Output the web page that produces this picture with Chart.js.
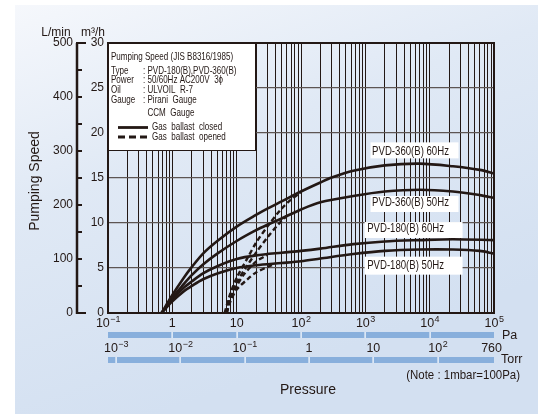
<!DOCTYPE html>
<html>
<head>
<meta charset="utf-8">
<script src="https://cdn.jsdelivr.net/npm/chart.js@4.4.1/dist/chart.umd.min.js"></script>
<style>
  html, body { margin: 0; padding: 0; background: #fff; }
  canvas { display: block; }
</style>
</head>
<body>
<canvas id="speedChart" width="538" height="414"></canvas>
<script>
// Pressure in Pa, pumping speed in m3/h
const p360_60 = [0.68, 1, 1.5, 2, 3, 5, 10, 20, 30, 50, 100, 200, 300, 650, 2000, 7000, 23000, 60000, 100000];
const s360_60 = [0, 2.0, 3.9, 5.1, 6.6, 8.0, 9.6, 10.9, 11.6, 12.4, 13.5, 14.5, 15.05, 15.8, 16.4, 16.6, 16.3, 15.9, 15.5];

const p360_50 = [0.68, 1, 1.5, 2, 3, 5, 10, 20, 30, 50, 100, 200, 650, 2000, 7000, 23000, 60000, 100000];
const s360_50 = [0, 1.7, 3.2, 4.2, 5.4, 6.6, 8.0, 9.2, 9.8, 10.5, 11.5, 12.3, 13.0, 13.5, 13.7, 13.5, 13.1, 12.8];

const p180_60 = [0.68, 1, 1.5, 2, 3, 5, 10, 20, 50, 100, 200, 650, 2000, 7000, 23000, 100000];
const s180_60 = [0, 1.5, 2.8, 3.5, 4.4, 5.2, 6.0, 6.4, 6.7, 6.9, 7.15, 7.65, 7.95, 8.1, 8.2, 8.1];

const p180_50 = [0.68, 1, 1.5, 2, 3, 5, 10, 20, 50, 100, 200, 650, 2000, 7000, 23000, 60000, 100000];
const s180_50 = [0, 1.3, 2.4, 3.0, 3.75, 4.4, 5.0, 5.3, 5.55, 5.75, 6.05, 6.55, 6.9, 7.05, 7.05, 6.9, 6.6];

// gas ballast opened
const p360_60o = [6.5, 8, 10, 15, 20, 30, 50, 70, 100];
const s360_60o = [0, 2.2, 3.9, 6.2, 7.8, 9.6, 11.6, 12.6, 13.4];
const p360_50o = [6.8, 8, 10, 15, 20, 30, 45, 60];
const s360_50o = [0, 1.9, 3.4, 5.4, 6.7, 8.4, 9.9, 10.8];
const p180_60o = [7, 8, 10, 13, 20, 30];
const s180_60o = [0, 1.6, 3.0, 4.3, 5.7, 6.45];
const p180_50o = [7, 8, 10, 15, 20, 30, 40];
const s180_50o = [0, 1.3, 2.6, 3.8, 4.5, 5.1, 5.45];

const curveNames = ["PVD-360(B) 60Hz", "PVD-360(B) 50Hz", "PVD-180(B) 60Hz", "PVD-180(B) 50Hz"];

// axis ticks
const paTicks = [0.1, 1, 10, 100, 1000, 10000, 100000];
const paLabels = ["10^−1", "1", "10", "10^2", "10^3", "10^4", "10^5"];
const torrTicks = [0.001, 0.01, 0.1, 1, 10, 100, 760];
const torrLabels = ["10^−3", "10^−2", "10^−1", "1", "10", "10^2", "760"];
const lminTicks = [0, 100, 200, 300, 400, 500];
const m3hTicks = [0, 5, 10, 15, 20, 25, 30];

const legendTitle = "Pumping Speed (JIS B8316/1985)";
const legendLines = [
  ["Type", ": PVD-180(B),PVD-360(B)"],
  ["Power", ": 50/60Hz AC200V  3\u03d5"],
  ["Oil", ": ULVOIL  R-7"],
  ["Gauge", ": Pirani  Gauge"],
  ["", "  CCM  Gauge"]
];
const legendKeys = ["Gas  ballast  closed", "Gas  ballast  opened"];

const TORR_PA = 133.322;
const LMIN_M3H = 0.06;

const INK = '#231815';
const BAR = '#88afdc';
const REG = "'Liberation Sans', Arial, sans-serif";

// label anchors (Pa, m3/h) and white box margins in px [left, right, up, down]
const labelAnchors = [
  { x: 5040, y: 17.96, box: [40, 48, 9, 7] },
  { x: 5040, y: 12.22, box: [40, 48, 7, 9] },
  { x: 4220, y: 9.33, box: [41, 57, 7, 9] },
  { x: 4220, y: 5.26, box: [41, 57, 9, 9] }
];

function pts(px, py) {
  return px.map((p, i) => ({ x: p, y: py[i] }));
}

function curve(px, py, dashed) {
  return {
    data: pts(px, py),
    borderColor: INK,
    borderWidth: dashed ? 2.4 : 2.6,
    borderDash: dashed ? [5, 3] : [],
    pointRadius: 0,
    fill: false,
    tension: 0.3
  };
}

// condensed text (Helvetica Condensed look)
function narrow(ctx, text, x, y, size, align, sx) {
  ctx.save();
  ctx.font = size + 'px ' + REG;
  ctx.textAlign = align || 'left';
  ctx.textBaseline = 'middle';
  ctx.translate(x, y);
  ctx.scale(sx || 0.82, 1);
  ctx.fillText(text, 0, 0);
  ctx.restore();
}

// draws "10^2" style text centred on cx
function powText(ctx, label, cx, cy, size, align) {
  const parts = label.split('^');
  ctx.font = size + 'px ' + REG;
  const wb = ctx.measureText(parts[0]).width;
  let we = 0;
  if (parts[1]) {
    ctx.font = (size * 0.72) + 'px ' + REG;
    we = ctx.measureText(parts[1]).width;
  }
  let x0 = cx - (wb + we) / 2;
  if (align === 'right') x0 = cx - wb - we;
  ctx.textAlign = 'left';
  ctx.textBaseline = 'middle';
  ctx.font = size + 'px ' + REG;
  ctx.fillText(parts[0], x0, cy);
  if (parts[1]) {
    ctx.font = (size * 0.72) + 'px ' + REG;
    ctx.fillText(parts[1], x0 + wb + 0.5, cy - size * 0.33);
  }
}

const gridPa = [];
for (let e = -1; e < 5; e++) {
  for (let m = 1; m < 10; m++) gridPa.push(m * Math.pow(10, e));
}
gridPa.push(1e5);

const decor = {
  id: 'decor',
  beforeDraw(chart) {
    const ctx = chart.ctx;
    ctx.save();
    ctx.fillStyle = '#fff';
    ctx.fillRect(0, 0, chart.width, chart.height);
    const g = ctx.createLinearGradient(15, 0, 160, 414);
    g.addColorStop(0, '#f6f8fc');
    g.addColorStop(0.45, '#e0e9f5');
    g.addColorStop(1, '#d3e0f1');
    ctx.fillStyle = g;
    ctx.fillRect(15, 5, chart.width - 15, chart.height - 5);
    ctx.restore();
  },
  beforeDatasetsDraw(chart) {
    const ctx = chart.ctx;
    const a = chart.chartArea;
    const xs = chart.scales.x, ys = chart.scales.y;
    ctx.save();
    // white label boxes
    ctx.fillStyle = '#fff';
    labelAnchors.forEach(l => {
      const cx = xs.getPixelForValue(l.x), cy = ys.getPixelForValue(l.y);
      ctx.fillRect(cx - l.box[0], cy - l.box[2], l.box[0] + l.box[1], l.box[2] + l.box[3]);
    });
    ctx.fillStyle = INK;
    labelAnchors.forEach((l, i) => {
      narrow(ctx, curveNames[i], xs.getPixelForValue(l.x), ys.getPixelForValue(l.y), 12, 'center', 0.8);
    });

    // legend box
    const bx = a.left, by = a.top, bw = 147, bh = 107;
    ctx.fillStyle = '#fff';
    ctx.fillRect(bx, by, bw, bh);
    ctx.strokeStyle = INK;
    ctx.lineWidth = 1;
    ctx.strokeRect(bx + 0.5, by + 0.5, bw, bh);
    ctx.fillStyle = INK;
    narrow(ctx, legendTitle, bx + 3, by + 14, 10.2, 'left', 0.79);
    const rows = [28, 37.5, 47, 57.5, 70];
    legendLines.forEach((r, i) => {
      narrow(ctx, r[0], bx + 3, by + rows[i], 10.2, 'left', 0.79);
      narrow(ctx, r[1], bx + 35, by + rows[i], 10.2, 'left', 0.79);
    });
    ctx.lineWidth = 2.8;
    ctx.beginPath();
    ctx.moveTo(bx + 10, by + 84.5);
    ctx.lineTo(bx + 40, by + 84.5);
    ctx.stroke();
    ctx.setLineDash([7, 4]);
    ctx.beginPath();
    ctx.moveTo(bx + 10, by + 94);
    ctx.lineTo(bx + 41, by + 94);
    ctx.stroke();
    ctx.setLineDash([]);
    narrow(ctx, legendKeys[0], bx + 44, by + 84.5, 10.2, 'left', 0.79);
    narrow(ctx, legendKeys[1], bx + 44, by + 94, 10.2, 'left', 0.79);

    // plot frame
    ctx.lineWidth = 2;
    ctx.strokeRect(a.left, a.top, a.right - a.left, a.bottom - a.top);
    ctx.restore();
  },
  afterDraw(chart) {
    const ctx = chart.ctx;
    const a = chart.chartArea;
    const xs = chart.scales.x, ys = chart.scales.y;
    ctx.save();
    ctx.fillStyle = INK;
    ctx.strokeStyle = INK;

    // L/min axis
    const ax = 77;
    ctx.lineWidth = 2.5;
    ctx.beginPath();
    ctx.moveTo(ax, a.top);
    ctx.lineTo(ax, a.bottom + 1);
    ctx.stroke();
    for (let v = 0; v <= 500; v += 50) {
      const y = ys.getPixelForValue(v * LMIN_M3H);
      const end = (v === 0 || v === 500) ? ax + 9 : ax + 5;
      ctx.lineWidth = 2;
      ctx.beginPath();
      ctx.moveTo(ax - 1, y);
      ctx.lineTo(end, y);
      ctx.stroke();
    }
    ctx.textBaseline = 'middle';
    ctx.textAlign = 'right';
    ctx.font = '12px ' + REG;
    lminTicks.forEach(v => {
      ctx.fillText(String(v), ax - 4, ys.getPixelForValue(v * LMIN_M3H));
    });
    m3hTicks.forEach(v => {
      ctx.fillText(String(v), a.left - 4, ys.getPixelForValue(v));
    });
    ctx.textAlign = 'center';
    ctx.fillText('L/min', 56, 33);
    ctx.fillText('m\u00b3/h', 93, 33);

    // axis title
    ctx.save();
    ctx.translate(35, 181);
    ctx.rotate(-Math.PI / 2);
    ctx.font = '14px ' + REG;
    ctx.fillText('Pumping Speed', 0, 0);
    ctx.restore();

    // Pa scale
    paTicks.forEach((v, i) => {
      powText(ctx, paLabels[i], xs.getPixelForValue(v), 324, 12.5);
    });
    ctx.fillStyle = BAR;
    ctx.fillRect(a.left, 332, a.right - a.left, 6);
    ctx.fillRect(a.left, 357, a.right - a.left, 6);
    ctx.fillStyle = '#fff';
    paTicks.slice(1, -1).forEach(v => {
      ctx.fillRect(Math.round(xs.getPixelForValue(v)) - 0.5, 332, 1.2, 6);
    });
    torrTicks.slice(0, -1).forEach(v => {
      ctx.fillRect(Math.round(xs.getPixelForValue(v * TORR_PA)) - 0.5, 357, 1.2, 6);
    });
    ctx.fillStyle = INK;
    torrTicks.forEach((v, i) => {
      const x = xs.getPixelForValue(Math.min(v * TORR_PA, 1e5));
      if (v === 760) powText(ctx, torrLabels[i], x + 8, 349, 12.5, 'right');
      else powText(ctx, torrLabels[i], x, 349, 12.5);
    });
    ctx.textAlign = 'left';
    ctx.font = '12.5px ' + REG;
    ctx.fillText('Pa', 502, 336);
    ctx.fillText('Torr', 501, 360);
    narrow(ctx, '(Note : 1mbar=100Pa)', 520, 375, 13.2, 'right', 0.87);
    ctx.textAlign = 'left';
    ctx.font = '14px ' + REG;
    ctx.fillText('Pressure', 280, 390);
    ctx.restore();
  }
};

new Chart(document.getElementById('speedChart'), {
  type: 'line',
  data: {
    datasets: [
      curve(p360_60, s360_60, false),
      curve(p360_50, s360_50, false),
      curve(p180_60, s180_60, false),
      curve(p180_50, s180_50, false),
      curve(p360_60o, s360_60o, true),
      curve(p360_50o, s360_50o, true),
      curve(p180_60o, s180_60o, true),
      curve(p180_50o, s180_50o, true)
    ]
  },
  options: {
    responsive: false,
    animation: false,
    devicePixelRatio: 1,
    layout: { padding: { left: 108, top: 43, right: 44, bottom: 101 } },
    plugins: { legend: { display: false }, tooltip: { enabled: false } },
    scales: {
      x: {
        type: 'logarithmic',
        min: 0.1,
        max: 1e5,
        afterBuildTicks: axis => { axis.ticks = gridPa.map(v => ({ value: v })); },
        ticks: { display: false },
        grid: { color: INK, lineWidth: 1, drawTicks: false },
        border: { display: false }
      },
      y: {
        type: 'linear',
        min: 0,
        max: 30,
        ticks: { display: false, stepSize: 5 },
        grid: { color: '#5d5553', lineWidth: 1.2, drawTicks: false },
        border: { display: false }
      }
    }
  },
  plugins: [decor]
});
</script>
</body>
</html>
